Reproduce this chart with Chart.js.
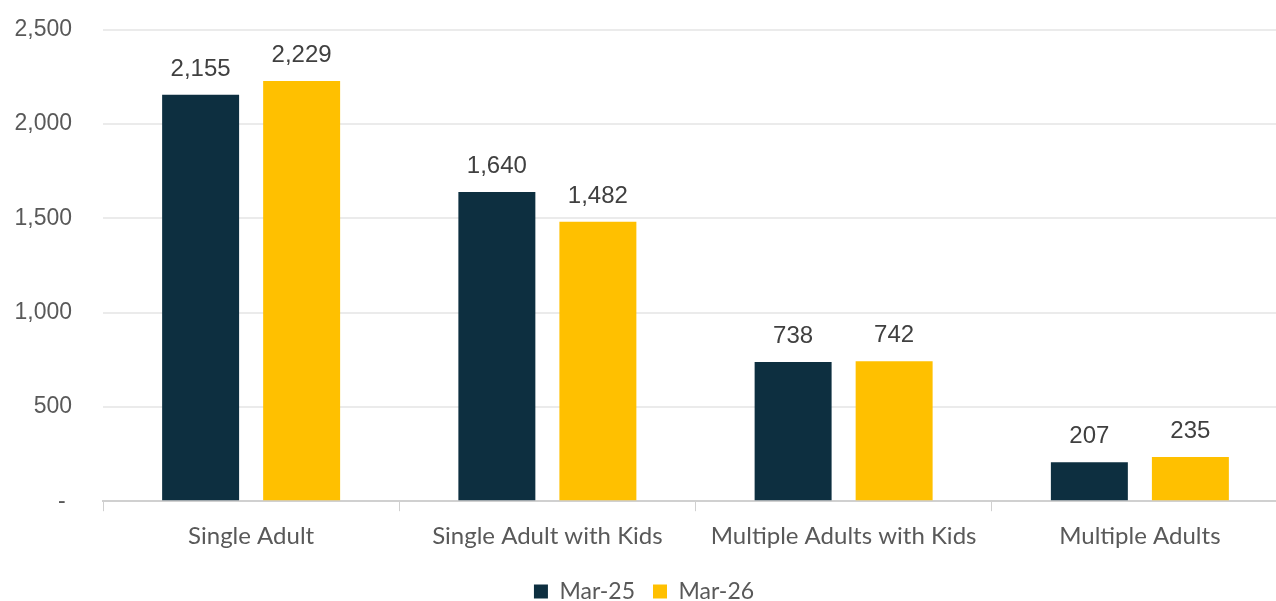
<!DOCTYPE html>
<html>
<head>
<meta charset="utf-8">
<script src="https://cdn.jsdelivr.net/npm/chart.js@4.4.1/dist/chart.umd.min.js"></script>
<style>
  html, body { margin: 0; padding: 0; background: #fff; overflow: hidden; }
  .wrap { width: 1290px; height: 616px; position: relative; margin-top: -15px; }
</style>
</head>
<body>
<div class="wrap"><canvas id="chart"></canvas></div>
<script>
// household types
const categories = ['Single Adult', 'Single Adult with Kids', 'Multiple Adults with Kids', 'Multiple Adults'];
const mar25 = [2155, 1640, 738, 207];
const mar26 = [2229, 1482, 742, 235];
const seriesNames = ['Mar-25', 'Mar-26'];
const yTicks = [0, 500, 1000, 1500, 2000, 2500];

const numFont = "'Liberation Sans', Arial, sans-serif";
const textFont = "Lato, 'Noto Sans', sans-serif";

// value labels above each bar
const barLabels = {
  id: 'barLabels',
  afterDatasetsDraw(chart) {
    const ctx = chart.ctx;
    ctx.save();
    ctx.font = `24px ${numFont}`;
    ctx.fillStyle = '#404040';
    ctx.textAlign = 'center';
    ctx.textBaseline = 'alphabetic';
    chart.data.datasets.forEach((ds, i) => {
      chart.getDatasetMeta(i).data.forEach((bar, j) => {
        ctx.fillText(ds.data[j].toLocaleString('en-US'), bar.x, bar.y - 19);
      });
    });
    ctx.restore();
  }
};

new Chart(document.getElementById('chart'), {
  type: 'bar',
  data: {
    labels: categories,
    datasets: [
      { label: seriesNames[0], data: mar25, backgroundColor: '#0d2f40' },
      { label: seriesNames[1], data: mar26, backgroundColor: '#ffc000' }
    ]
  },
  options: {
    responsive: true,
    maintainAspectRatio: false,
    animation: false,
    categoryPercentage: 0.682,
    barPercentage: 0.762,
    layout: { padding: { top: -8, right: 2, bottom: -12, left: 0 } },
    plugins: {
      legend: {
        position: 'bottom',
        labels: {
          boxWidth: 14,
          boxHeight: 14,
          padding: 18,
          color: '#595959',
          font: { family: textFont, size: 23 }
        }
      },
      tooltip: { enabled: false }
    },
    scales: {
      x: {
        grid: { offset: true, drawOnChartArea: false, drawTicks: true, tickLength: 10, color: '#d0d0d0' },
        border: { color: '#d0d0d0', width: 2 },
        ticks: { color: '#595959', padding: 11, font: { family: textFont, size: 24 } }
      },
      y: {
        min: 0,
        max: 2500,
        afterBuildTicks: (scale) => { scale.ticks = yTicks.map((v) => ({ value: v })); },
        afterFit: (scale) => { scale.width = 103; },
        grid: { color: '#ebebeb', lineWidth: 2, drawTicks: false },
        border: { display: false },
        ticks: {
          color: '#595959',
          padding: 31,
          font: { family: numFont, size: 23 },
          callback: (v) => (v === 0 ? '- ' : v.toLocaleString('en-US'))
        }
      }
    }
  },
  plugins: [barLabels]
});
</script>
</body>
</html>
